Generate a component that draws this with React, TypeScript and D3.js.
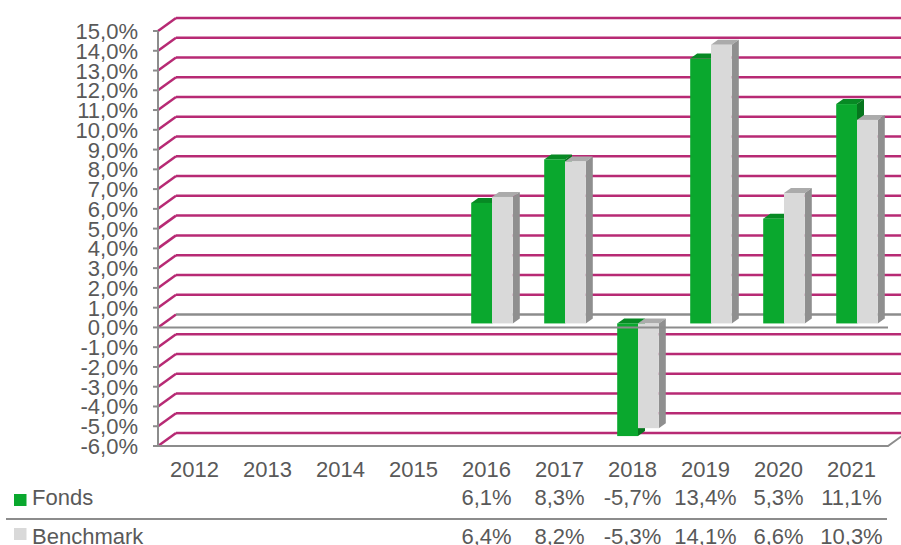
import React from 'react';
import * as d3 from 'd3';

const years = ['2012', '2013', '2014', '2015', '2016', '2017', '2018', '2019', '2020', '2021'];
const fonds: (number | null)[] = [null, null, null, null, 6.1, 8.3, -5.7, 13.4, 5.3, 11.1];
const benchmark: (number | null)[] = [null, null, null, null, 6.4, 8.2, -5.3, 14.1, 6.6, 10.3];
const yTicks = d3.range(-6, 16, 1);
const seriesNames = ['Fonds', 'Benchmark'];

const W = 901;
const H = 545;
const FONT = '"Liberation Sans", Arial, sans-serif';
const TEXT = '#595959';
const GRID = '#B72A74';
const AXIS = '#8C8C8C';

// 3d depth of the wall and of the bars
const DX = 18;
const DY = -13;
const BAR_OFF_X = 5.5;
const BAR_OFF_Y = -4;
const BAR_DX = 7;
const BAR_DY = -5;

const colors = {
  Fonds: { front: '#0AA82E', top: '#078A24', side: '#06761E' },
  Benchmark: { front: '#D9D9D9', top: '#ABABAB', side: '#8F8F8F' },
};

const fmt = (v: number) => v.toFixed(1).replace('.', ',') + '%';

function Bar({ x, w, y0, y1, c }: { x: number; w: number; y0: number; y1: number; c: any }) {
  // y0 = front top, y1 = front bottom
  const top = `M${x},${y0} L${x + BAR_DX},${y0 + BAR_DY} L${x + w + BAR_DX},${y0 + BAR_DY} L${x + w},${y0} Z`;
  const side = `M${x + w},${y0} L${x + w + BAR_DX},${y0 + BAR_DY} L${x + w + BAR_DX},${y1 + BAR_DY} L${x + w},${y1} Z`;
  return (
    <g>
      <path d={top} fill={c.top} />
      <path d={side} fill={c.side} />
      <rect x={x} y={y0} width={w} height={y1 - y0} fill={c.front} />
    </g>
  );
}

export default function App() {
  const x = d3.scaleBand().domain(years).range([158, 888]).padding(0);
  const y = d3.scaleLinear().domain([-6, 15]).range([446, 31]);
  const pairW = 41.6;
  const x1 = d3.scaleBand().domain(seriesNames).range([0, pairW]).padding(0);
  const y0 = y(0);

  return (
    <svg width={W} height={H} style={{ position: 'absolute', left: 0, top: 0, fontFamily: FONT }}>
      <rect width={W} height={H} fill="#fff" />
      {/* back wall gridlines */}
      {yTicks.map((t) => {
        const yy = y(t);
        return (
          <g key={t}>
            <path d={`M158,${yy} L${158 + DX},${yy + DY}`} stroke={GRID} strokeWidth={2.5} fill="none" />
            <path
              d={`M${158 + DX},${yy + DY} L${888 + DX},${yy + DY}`}
              stroke={t === 0 ? AXIS : GRID}
              strokeWidth={2.5}
              fill="none"
            />
          </g>
        );
      })}
      {/* floor edge */}
      <path d={`M158,${y(-6)} L888,${y(-6)} L${888 + DX},${y(-6) + DY}`} stroke={AXIS} strokeWidth={2} fill="none" />
      {/* bars */}
      {years.map((yr, i) => {
        const cx = (x(yr) as number) + x.bandwidth() / 2 + BAR_OFF_X;
        const start = cx - pairW / 2;
        const vals = [fonds[i], benchmark[i]];
        return (
          <g key={yr}>
            {seriesNames.map((s, j) => {
              const v = vals[j];
              if (v == null) return null;
              const a = Math.min(y(v), y0) + BAR_OFF_Y;
              const b = Math.max(y(v), y0) + BAR_OFF_Y;
              return (
                <Bar
                  key={s}
                  x={start + (x1(s) as number)}
                  w={x1.bandwidth()}
                  y0={a}
                  y1={b}
                  c={(colors as any)[s]}
                />
              );
            })}
          </g>
        );
      })}
      {/* front zero line */}
      <line x1={158} x2={888} y1={y0} y2={y0} stroke={AXIS} strokeWidth={2} />
      {/* value axis */}
      <line x1={158} x2={158} y1={y(15)} y2={y(-6)} stroke={AXIS} strokeWidth={2} />
      {yTicks.map((t) => (
        <g key={t}>
          <line x1={153} x2={158} y1={y(t)} y2={y(t)} stroke={AXIS} strokeWidth={2} />
          <text x={138} y={y(t) + 8} textAnchor="end" fontSize={22} fill={TEXT}>
            {fmt(t)}
          </text>
        </g>
      ))}
      {/* category labels and data table */}
      {years.map((yr, i) => {
        const cx = (x(yr) as number) + x.bandwidth() / 2;
        return (
          <g key={yr} fontSize={22} fill={TEXT} textAnchor="middle">
            <text x={cx} y={476.5}>{yr}</text>
            {fonds[i] != null && <text x={cx} y={505}>{fmt(fonds[i] as number)}</text>}
            {benchmark[i] != null && <text x={cx} y={544}>{fmt(benchmark[i] as number)}</text>}
          </g>
        );
      })}
      <line x1={6} x2={887} y1={519} y2={519} stroke={AXIS} strokeWidth={2} />
      {/* legend keys */}
      <rect x={14} y={494} width={12.5} height={12} fill={colors.Fonds.front} />
      <text x={32} y={505} fontSize={22} fill={TEXT}>Fonds</text>
      <rect x={14} y={528} width={12.5} height={12} fill={colors.Benchmark.front} />
      <text x={32} y={544} fontSize={22} fill={TEXT}>Benchmark</text>
    </svg>
  );
}
